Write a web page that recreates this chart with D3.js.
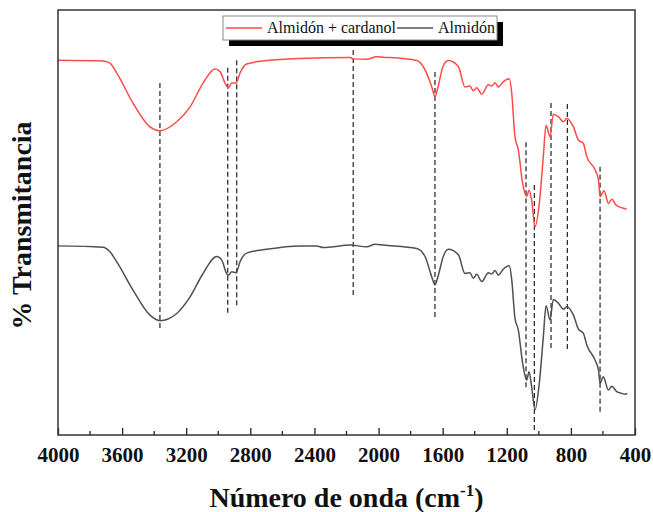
<!DOCTYPE html>
<html>
<head>
<meta charset="utf-8">
<script src="https://cdn.jsdelivr.net/npm/d3@7"></script>
<style>
  body { margin: 0; background: #fff; }
  text { font-family: "Liberation Serif", "Times New Roman", serif; }
</style>
</head>
<body>
<svg class="chart"></svg>
<script>
// wavenumber (cm-1) and transmittance (arbitrary units, offset for stacking)
const wnCardanol = [4000, 3719, 3676, 3634, 3532, 3426, 3364, 3259, 3176, 3095, 3020, 2989, 2958, 2937, 2916, 2889, 2864, 2823, 2698, 2490, 2178, 2159, 2074, 2012, 1972, 1762, 1710, 1668, 1648, 1629, 1598, 1565, 1502, 1461, 1430, 1409, 1388, 1356, 1315, 1294, 1273, 1253, 1222, 1184, 1169, 1149, 1128, 1101, 1076, 1061, 1045, 1024, 997, 972, 955, 930, 910, 878, 847, 826, 784, 753, 722, 701, 649, 628, 618, 593, 566, 545, 518, 452];
const tCardanol = [88.2, 88.0, 87.5, 85.2, 78.1, 72.5, 71.6, 73.7, 77.2, 82.8, 86.1, 85.5, 82.8, 81.7, 82.8, 82.8, 85.2, 87.3, 88.1, 88.6, 88.8, 88.5, 88.4, 89.0, 88.9, 88.1, 85.9, 81.9, 79.6, 81.9, 86.7, 88.1, 86.7, 81.9, 82.1, 81.0, 81.7, 80.2, 82.4, 82.1, 82.9, 81.9, 83.1, 83.8, 80.4, 70.2, 67.1, 59.2, 56.1, 57.6, 55.3, 49.0, 54.5, 65.5, 72.9, 70.2, 75.5, 74.9, 73.7, 74.5, 72.5, 69.4, 68.6, 65.5, 62.4, 60.0, 56.1, 57.5, 54.5, 55.5, 54.1, 53.2];

const wnAlmidon = [4000, 3719, 3676, 3634, 3532, 3426, 3364, 3259, 3176, 3095, 3010, 2979, 2948, 2937, 2916, 2889, 2864, 2823, 2698, 2490, 2386, 2345, 2282, 2178, 2074, 2022, 1970, 1762, 1710, 1668, 1648, 1627, 1596, 1565, 1502, 1461, 1430, 1409, 1388, 1356, 1315, 1294, 1273, 1253, 1222, 1184, 1169, 1149, 1128, 1101, 1076, 1061, 1045, 1024, 997, 972, 955, 930, 910, 878, 847, 826, 784, 753, 722, 701, 649, 628, 618, 598, 566, 545, 514, 483, 462, 448];
const tAlmidon = [44.5, 44.2, 43.1, 40.8, 34.1, 28.2, 26.9, 28.6, 32.5, 38.0, 42.0, 41.2, 38.0, 37.6, 38.4, 38.2, 40.8, 42.8, 43.7, 44.5, 44.5, 44.1, 44.3, 44.7, 44.3, 44.9, 44.7, 43.9, 42.0, 37.2, 35.3, 37.6, 42.0, 43.7, 42.4, 38.0, 38.2, 36.9, 37.8, 36.1, 38.2, 37.9, 38.7, 37.6, 39.0, 39.8, 36.5, 27.5, 24.7, 16.9, 12.9, 14.9, 11.4, 5.9, 12.2, 23.1, 30.4, 27.1, 31.9, 31.0, 29.6, 30.2, 28.2, 24.9, 23.9, 21.2, 17.6, 15.3, 12.2, 13.7, 10.6, 11.5, 10.2, 9.8, 9.6, 9.8];

// marked bands
const peakWn = [3364, 2941, 2885, 2158, 1648, 1080, 1028, 924, 822, 618];
const peakTop = [82.8, 86.4, 88.2, 90.6, 85.4, 68.9, 58.8, 78.1, 77.9, 63.1];
const peakBottom = [24.7, 28.2, 30.1, 32.5, 27.5, 11.1, 1.2, 20.0, 20.0, 5.2];

const seriesNames = ['Almidón + cardanol', 'Almidón'];
const seriesColors = ['#ff4a4a', '#505050'];
const majorTicks = [4000, 3600, 3200, 2800, 2400, 2000, 1600, 1200, 800, 400];
const minorTicks = [3800, 3400, 3000, 2600, 2200, 1800, 1400, 1000, 600];

const width = 653;
const height = 512;
const margin = {left: 58, right: 18, top: 10, bottom: 77};

const svg = d3.select('.chart')
  .attr('width', width)
  .attr('height', height);

const x = d3.scaleLinear().domain([4000, 400]).range([margin.left, width - margin.right]);
const y = d3.scaleLinear().domain([0, 100]).range([height - margin.bottom, margin.top]);

const line = d3.line()
  .x(d => x(d[0]))
  .y(d => y(d[1]))
  .curve(d3.curveMonotoneX);

// dashed band markers
svg.append('g').selectAll('line').data(peakWn).enter().append('line')
  .attr('x1', d => x(d)).attr('x2', d => x(d))
  .attr('y1', (d, i) => y(peakTop[i]))
  .attr('y2', (d, i) => y(peakBottom[i]))
  .attr('stroke', '#222')
  .attr('stroke-width', 1.2)
  .attr('stroke-dasharray', '5,3');

const series = [d3.zip(wnCardanol, tCardanol), d3.zip(wnAlmidon, tAlmidon)];
svg.append('g').selectAll('path').data(series).enter().append('path')
  .attr('d', line)
  .attr('fill', 'none')
  .attr('stroke', (d, i) => seriesColors[i])
  .attr('stroke-width', 1.5)
  .attr('stroke-linejoin', 'round');

// axis (ticks inward)
const xAxis = d3.axisBottom(x).tickValues(majorTicks).tickSize(-7).tickPadding(12).tickFormat(d3.format('d'));
const gx = svg.append('g')
  .attr('transform', `translate(0,${y(0)})`)
  .call(xAxis);
gx.select('.domain').remove();
gx.selectAll('line').attr('stroke', '#222').attr('stroke-width', 1.3);
gx.selectAll('text')
  .attr('fill', '#111')
  .style('font-family', '"Liberation Serif", serif')
  .style('font-size', '21px')
  .style('font-weight', 'bold');

svg.append('g').selectAll('line').data(minorTicks).enter().append('line')
  .attr('x1', d => x(d)).attr('x2', d => x(d))
  .attr('y1', y(0)).attr('y2', y(0) - 4)
  .attr('stroke', '#222').attr('stroke-width', 1.3);

// frame
svg.append('rect')
  .attr('x', x(4000)).attr('y', y(100))
  .attr('width', x(400) - x(4000)).attr('height', y(0) - y(100))
  .attr('fill', 'none')
  .attr('stroke', '#333')
  .attr('stroke-width', 1.5);

// titles
const xt = svg.append('text')
  .attr('x', (x(4000) + x(400)) / 2)
  .attr('y', 507)
  .attr('text-anchor', 'middle')
  .style('font-size', '28px')
  .style('font-weight', 'bold')
  .attr('fill', '#111');
xt.append('tspan').text('Número de onda (cm');
xt.append('tspan').text('-1').attr('dy', -11).style('font-size', '17px');
xt.append('tspan').text(')').attr('dy', 11);

svg.append('text')
  .attr('transform', `translate(31,${(y(0) + y(100)) / 2 + 3}) rotate(-90)`)
  .attr('text-anchor', 'middle')
  .style('font-size', '28px')
  .style('font-weight', 'bold')
  .attr('fill', '#111')
  .text('% Transmitancia');

// legend with drop shadow
const lg = svg.append('g').attr('transform', 'translate(223,16)');
const lw = 274, lh = 24;
lg.append('rect').attr('x', 6).attr('y', 6).attr('width', lw).attr('height', lh).attr('fill', '#000');
lg.append('rect').attr('width', lw).attr('height', lh).attr('fill', '#fff').attr('stroke', '#888').attr('stroke-width', 1);
const legendX = [3, 174];
seriesNames.forEach((name, i) => {
  lg.append('line')
    .attr('x1', legendX[i]).attr('x2', legendX[i] + 36)
    .attr('y1', lh / 2).attr('y2', lh / 2)
    .attr('stroke', seriesColors[i]).attr('stroke-width', 1.5);
  lg.append('text')
    .attr('x', legendX[i] + 41)
    .attr('y', lh / 2 + 5)
    .style('font-size', '16px')
    .attr('fill', '#111')
    .text(name);
});
</script>
</body>
</html>
